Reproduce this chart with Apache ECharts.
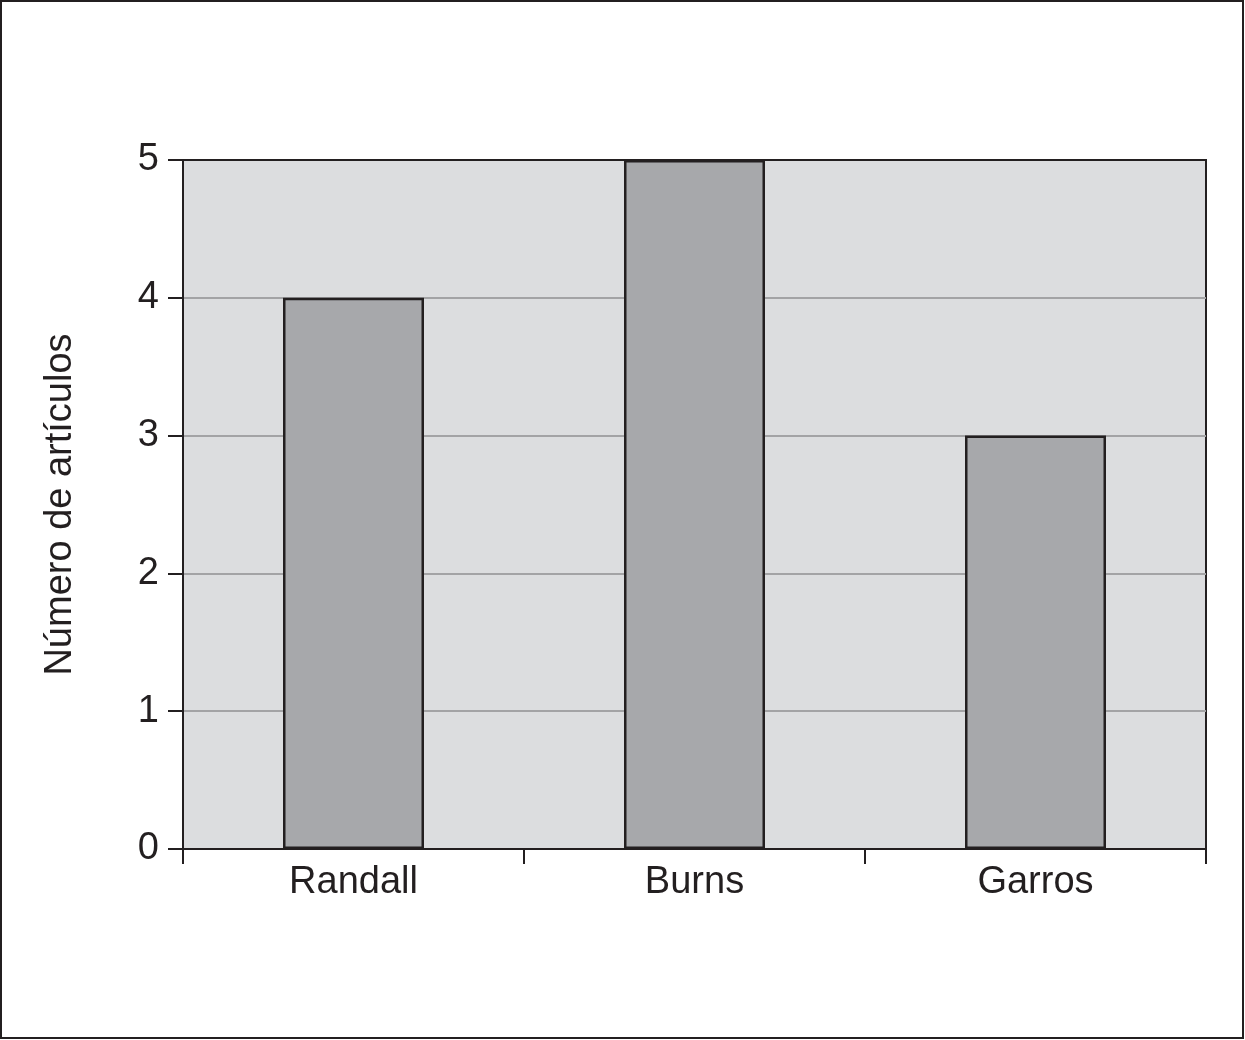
<!DOCTYPE html>
<html>
<head>
<meta charset="utf-8">
<script src="https://cdn.jsdelivr.net/npm/echarts@6/dist/echarts.min.js"></script>
<style>
  body { margin: 0; background: #fff; }
  #main { width: 1245px; height: 1040px; }
</style>
</head>
<body>
<div id="main"></div>
<script>
var categories = ['Randall', 'Burns', 'Garros'];
var articulos = [4, 5, 3];
var yTicks = [0, 1, 2, 3, 4, 5];

var ink = '#231f20';
var chart = echarts.init(document.getElementById('main'));

var option = {
    backgroundColor: '#ffffff',
    textStyle: { fontFamily: 'Liberation Sans, Arial, sans-serif' },
    graphic: [{
        type: 'rect',
        shape: { x: 1, y: 1, width: 1242, height: 1037 },
        style: { fill: 'none', stroke: ink, lineWidth: 2 },
        z: 100
    }],
    grid: {
        left: 183, top: 160, right: 39, bottom: 191,
        show: true,
        backgroundColor: '#dcdddf',
        borderColor: ink,
        borderWidth: 2
    },
    xAxis: {
        type: 'category',
        data: categories,
        axisLine: { lineStyle: { color: ink, width: 2 } },
        axisTick: { show: true, length: 15, lineStyle: { color: ink, width: 2 } },
        axisLabel: { color: ink, fontSize: 38, margin: 15 }
    },
    yAxis: {
        type: 'value',
        min: yTicks[0],
        max: yTicks[yTicks.length - 1],
        interval: 1,
        name: 'Número de artículos',
        nameLocation: 'middle',
        nameGap: 103,
        nameTextStyle: { color: ink, fontSize: 38 },
        axisLine: { show: true, lineStyle: { color: ink, width: 2 } },
        axisTick: { show: true, length: 15, lineStyle: { color: ink, width: 2 } },
        axisLabel: { color: ink, fontSize: 38, margin: 24 },
        splitLine: { showMaxLine: false, lineStyle: { color: '#a3a3a5', width: 2 } }
    },
    series: [{
        type: 'bar',
        data: articulos,
        barWidth: 141,
        itemStyle: { color: '#a7a8ab', borderColor: ink, borderWidth: 2.5 }
    }]
};

chart.setOption(option);
</script>
</body>
</html>
